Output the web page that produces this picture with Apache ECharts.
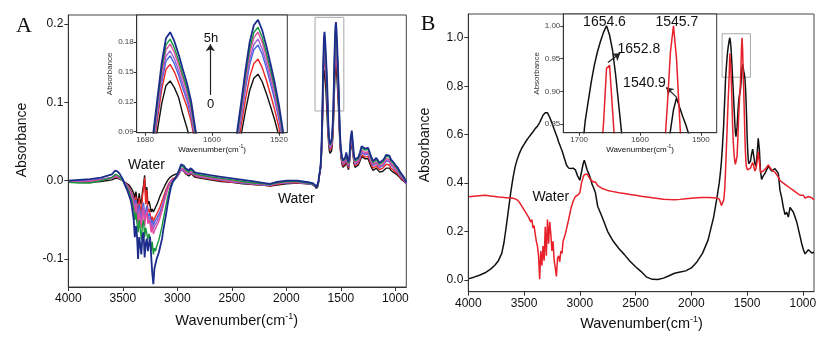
<!DOCTYPE html>
<html><head><meta charset="utf-8">
<script src="https://cdn.jsdelivr.net/npm/echarts@6/dist/echarts.min.js"></script>
<style>html,body{margin:0;padding:0;background:#fff}#c{width:835px;height:342px}</style>
</head><body><div id="c"></div>
<script>
// ---------- Panel A: wavenumbers ----------
const X_A = [
 4000,3900,3800,3700,3600,3570,3550,3530,3500,3480,3460,
 3450,3440,3430,3420,3410,3400,3390,3380,3370,3360,3350,3340,3330,3320,3310,3300,3290,3280,3270,3260,3250,3240,3230,3220,3210,3200,3190,3180,3170,3160,3150,3140,3130,3120,3110,3100,3090,3080,3070,3060,3050,
 3040,3020,3000,2980,2965,2955,2940,2925,2910,2895,2880,2870,2860,2845,2820,2780,2700,2600,2500,2400,2300,2200,2150,2100,2050,2000,1900,1800,1760,1740,1725,1715,1705,
 1700,1695,1690,1685,1680,1675,1670,1665,1660,1655,1650,1645,1640,1635,1630,1625,1620,1615,1610,1605,1600,1595,1590,1585,1580,1575,1570,1565,1560,1555,1550,1545,1540,1535,1530,1525,1520,1515,1510,
 1505,1500,1490,1480,1470,1460,1450,1440,1430,1420,1410,1400,1390,1380,1370,1355,1340,1325,1310,1295,1280,1265,1250,1235,1220,1205,1190,1175,1160,1145,1130,1115,1100,1085,1070,1055,1040,1020,1000,980,960,940,920,900
];
// 0 h (black)
const A_T0 = [
 -0.002,-0.002,-0.002,-0.001,0.001,0.003,0.003,0.002,0.000,-0.002,-0.004,
 -0.004,-0.006,-0.008,-0.010,-0.013,-0.016,-0.022,-0.014,-0.024,-0.030,-0.016,-0.026,-0.030,-0.014,-0.006,0.007,-0.020,-0.008,-0.030,-0.026,-0.032,-0.040,-0.036,-0.040,-0.037,-0.034,-0.031,-0.028,-0.024,-0.020,-0.017,-0.014,-0.011,-0.008,-0.005,-0.003,0.000,0.002,0.004,0.005,0.006,
 0.007,0.008,0.009,0.012,0.015,0.015,0.012,0.009,0.007,0.006,0.008,0.009,0.007,0.005,0.004,0.003,0.001,-0.001,-0.002,-0.004,-0.005,-0.006,-0.007,-0.006,-0.005,-0.004,-0.003,-0.004,-0.005,-0.007,-0.009,-0.009,-0.003,
 0.0045,0.0074,0.0111,0.0163,0.026,0.043,0.0668,0.0928,0.1187,0.1365,0.141,0.1343,0.1247,0.108,0.094,0.078,0.062,0.0534,0.043,0.0378,0.0349,0.0336,0.0343,0.038,0.0438,0.0533,0.0657,0.0876,0.111,0.1314,0.1438,0.1478,0.1402,0.1285,0.1153,0.1015,0.0854,0.0657,0.0496,
 0.040,0.031,0.021,0.017,0.018,0.020,0.026,0.018,0.014,0.024,0.041,0.049,0.036,0.022,0.017,0.016,0.020,0.025,0.031,0.030,0.028,0.029,0.028,0.022,0.017,0.013,0.012,0.016,0.014,0.011,0.010,0.012,0.014,0.016,0.015,0.016,0.013,0.011,0.009,0.007,0.004,0.001,-0.001,-0.004
];
// red
const A_T1 = [
 -0.001,-0.001,0.000,0.001,0.003,0.005,0.004,0.003,0.000,-0.003,-0.005,
 -0.006,-0.009,-0.012,-0.014,-0.018,-0.022,-0.030,-0.020,-0.032,-0.040,-0.022,-0.035,-0.042,-0.020,-0.010,0.004,-0.030,-0.012,-0.040,-0.036,-0.042,-0.050,-0.046,-0.052,-0.048,-0.046,-0.043,-0.040,-0.037,-0.034,-0.030,-0.026,-0.022,-0.018,-0.014,-0.010,-0.007,-0.004,-0.002,0.000,0.002,
 0.003,0.004,0.006,0.010,0.014,0.015,0.012,0.010,0.008,0.007,0.009,0.010,0.008,0.006,0.005,0.004,0.002,0.000,-0.002,-0.003,-0.005,-0.006,-0.007,-0.005,-0.004,-0.003,-0.003,-0.004,-0.005,-0.007,-0.010,-0.009,-0.002,
 0.005,0.0083,0.0125,0.0183,0.029,0.0481,0.0747,0.1038,0.1328,0.1527,0.1577,0.1502,0.1394,0.127,0.1154,0.1004,0.0772,0.0598,0.0481,0.0423,0.039,0.0375,0.0378,0.0419,0.0483,0.0588,0.0725,0.0966,0.1224,0.1449,0.1586,0.163,0.1546,0.1417,0.1272,0.1119,0.0942,0.0725,0.0547,
 0.043,0.034,0.023,0.019,0.020,0.022,0.028,0.020,0.016,0.026,0.044,0.052,0.038,0.024,0.019,0.018,0.022,0.027,0.033,0.032,0.030,0.032,0.031,0.025,0.020,0.016,0.015,0.019,0.017,0.014,0.013,0.016,0.018,0.021,0.019,0.020,0.016,0.014,0.011,0.009,0.005,0.002,0.000,-0.004
];
// blue
const A_T2 = [
 0.000,0.000,0.000,0.002,0.004,0.007,0.006,0.004,0.000,-0.003,-0.006,
 -0.008,-0.011,-0.014,-0.017,-0.020,-0.025,-0.034,-0.024,-0.036,-0.046,-0.030,-0.042,-0.050,-0.036,-0.028,-0.048,-0.038,-0.032,-0.046,-0.042,-0.046,-0.055,-0.050,-0.057,-0.053,-0.051,-0.048,-0.046,-0.043,-0.040,-0.036,-0.032,-0.028,-0.023,-0.018,-0.014,-0.010,-0.006,-0.003,-0.001,0.001,
 0.001,0.002,0.005,0.010,0.014,0.015,0.013,0.011,0.009,0.008,0.010,0.011,0.009,0.007,0.006,0.005,0.003,0.001,-0.001,-0.003,-0.004,-0.006,-0.006,-0.004,-0.003,-0.003,-0.002,-0.004,-0.005,-0.006,-0.009,-0.008,-0.002,
 0.0053,0.0088,0.0131,0.0193,0.0306,0.0508,0.0788,0.1094,0.14,0.161,0.1663,0.1584,0.147,0.1339,0.1216,0.1059,0.0814,0.063,0.0508,0.0446,0.0411,0.0403,0.0411,0.0455,0.0525,0.0639,0.0788,0.105,0.133,0.1575,0.1724,0.1772,0.168,0.154,0.1383,0.1216,0.1024,0.0788,0.0595,
 0.046,0.036,0.025,0.021,0.022,0.024,0.030,0.022,0.018,0.028,0.047,0.055,0.041,0.026,0.021,0.020,0.024,0.029,0.036,0.035,0.033,0.035,0.034,0.028,0.023,0.019,0.018,0.022,0.020,0.017,0.016,0.019,0.021,0.025,0.023,0.024,0.020,0.017,0.014,0.011,0.007,0.004,0.001,-0.004
];
// purple
const A_T3 = [
 -0.001,-0.001,0.000,0.001,0.003,0.006,0.005,0.003,0.000,-0.004,-0.007,
 -0.009,-0.012,-0.015,-0.018,-0.022,-0.028,-0.038,-0.028,-0.040,-0.050,-0.036,-0.046,-0.054,-0.040,-0.032,-0.052,-0.042,-0.036,-0.050,-0.046,-0.050,-0.060,-0.054,-0.062,-0.058,-0.056,-0.053,-0.050,-0.047,-0.043,-0.039,-0.035,-0.030,-0.025,-0.020,-0.015,-0.011,-0.007,-0.004,-0.002,0.000,
 0.000,0.002,0.005,0.010,0.015,0.016,0.014,0.011,0.009,0.008,0.011,0.012,0.009,0.007,0.006,0.005,0.003,0.001,-0.001,-0.002,-0.004,-0.005,-0.006,-0.004,-0.003,-0.002,-0.002,-0.003,-0.004,-0.006,-0.009,-0.008,-0.001,
 0.0054,0.009,0.0135,0.0198,0.0316,0.0523,0.0812,0.1128,0.1443,0.166,0.1714,0.1633,0.1515,0.138,0.1254,0.1091,0.0839,0.0649,0.0523,0.046,0.0424,0.0415,0.0424,0.0469,0.0541,0.0658,0.0812,0.1082,0.1371,0.1624,0.1777,0.1831,0.1732,0.1588,0.1425,0.1254,0.1055,0.0812,0.0613,
 0.047,0.037,0.026,0.022,0.023,0.025,0.031,0.023,0.019,0.029,0.048,0.056,0.042,0.027,0.022,0.021,0.025,0.030,0.037,0.036,0.034,0.036,0.035,0.029,0.024,0.020,0.019,0.023,0.021,0.018,0.017,0.020,0.022,0.026,0.024,0.025,0.021,0.018,0.015,0.012,0.008,0.005,0.002,-0.003
];
// pink
const A_T4 = [
 -0.001,-0.002,-0.001,0.001,0.004,0.007,0.006,0.004,0.000,-0.004,-0.008,
 -0.010,-0.013,-0.016,-0.020,-0.026,-0.030,-0.042,-0.030,-0.045,-0.055,-0.040,-0.050,-0.060,-0.044,-0.036,-0.058,-0.046,-0.040,-0.055,-0.050,-0.055,-0.066,-0.058,-0.068,-0.064,-0.062,-0.058,-0.056,-0.052,-0.048,-0.043,-0.038,-0.033,-0.027,-0.022,-0.017,-0.012,-0.008,-0.005,-0.002,0.000,
 0.000,0.002,0.006,0.011,0.016,0.017,0.015,0.012,0.010,0.009,0.012,0.013,0.010,0.008,0.007,0.006,0.004,0.002,0.000,-0.002,-0.003,-0.005,-0.005,-0.004,-0.003,-0.002,-0.002,-0.003,-0.004,-0.006,-0.009,-0.008,-0.001,
 0.0056,0.0094,0.0141,0.0206,0.0328,0.0543,0.0843,0.1171,0.1499,0.1724,0.178,0.1696,0.1574,0.1434,0.1302,0.1134,0.0871,0.0675,0.0543,0.0478,0.044,0.0431,0.044,0.0487,0.0562,0.0684,0.0843,0.1124,0.1424,0.1687,0.1846,0.19,0.1799,0.1649,0.148,0.1302,0.1096,0.0843,0.0637,
 0.048,0.038,0.027,0.023,0.024,0.026,0.032,0.024,0.020,0.030,0.050,0.058,0.044,0.028,0.023,0.022,0.026,0.032,0.039,0.038,0.036,0.038,0.037,0.031,0.025,0.021,0.020,0.024,0.022,0.019,0.018,0.021,0.024,0.028,0.026,0.027,0.022,0.019,0.016,0.013,0.009,0.006,0.002,-0.003
];
// green
const A_T5 = [
 -0.002,-0.003,-0.003,0.000,0.004,0.008,0.007,0.005,0.000,-0.005,-0.009,
 -0.012,-0.016,-0.020,-0.024,-0.030,-0.036,-0.050,-0.040,-0.055,-0.066,-0.050,-0.062,-0.075,-0.056,-0.050,-0.072,-0.060,-0.058,-0.075,-0.068,-0.072,-0.090,-0.078,-0.094,-0.086,-0.090,-0.084,-0.080,-0.076,-0.070,-0.064,-0.058,-0.050,-0.043,-0.036,-0.029,-0.022,-0.016,-0.011,-0.006,-0.003,
 -0.001,0.002,0.007,0.013,0.019,0.020,0.017,0.014,0.012,0.011,0.014,0.015,0.012,0.009,0.008,0.007,0.005,0.003,0.001,-0.001,-0.003,-0.004,-0.005,-0.003,-0.002,-0.001,-0.001,-0.003,-0.004,-0.006,-0.010,-0.009,-0.001,
 0.006,0.0096,0.0144,0.0212,0.0337,0.0559,0.0867,0.1204,0.1541,0.1772,0.183,0.1743,0.1618,0.1473,0.1339,0.1165,0.0896,0.0693,0.0559,0.0491,0.0453,0.0443,0.0453,0.0501,0.0578,0.0703,0.0867,0.1156,0.1464,0.1733,0.1897,0.195,0.1849,0.1695,0.1522,0.1339,0.1127,0.0867,0.0655,
 0.050,0.040,0.029,0.025,0.026,0.028,0.034,0.026,0.022,0.032,0.052,0.061,0.046,0.030,0.025,0.024,0.028,0.034,0.042,0.041,0.039,0.041,0.040,0.034,0.028,0.023,0.022,0.027,0.025,0.021,0.020,0.024,0.027,0.031,0.029,0.030,0.025,0.022,0.018,0.015,0.010,0.007,0.003,-0.002
];
// 5 h (navy)
const A_T6 = [
 0.000,0.001,0.002,0.004,0.008,0.013,0.012,0.009,0.002,-0.006,-0.012,
 -0.016,-0.020,-0.024,-0.030,-0.040,-0.050,-0.072,-0.058,-0.070,-0.100,-0.072,-0.082,-0.094,-0.070,-0.066,-0.098,-0.080,-0.074,-0.090,-0.080,-0.072,-0.096,-0.118,-0.132,-0.112,-0.106,-0.100,-0.096,-0.092,-0.086,-0.080,-0.074,-0.064,-0.056,-0.048,-0.040,-0.031,-0.023,-0.016,-0.009,-0.005,
 -0.001,0.003,0.008,0.015,0.021,0.022,0.019,0.016,0.014,0.013,0.016,0.017,0.014,0.011,0.010,0.009,0.007,0.005,0.003,0.001,-0.001,-0.003,-0.004,-0.002,-0.001,0.000,0.000,-0.002,-0.003,-0.005,-0.009,-0.008,0.000,
 0.006,0.010,0.015,0.022,0.035,0.058,0.090,0.125,0.160,0.184,0.190,0.181,0.168,0.153,0.139,0.121,0.093,0.072,0.058,0.051,0.047,0.046,0.047,0.052,0.060,0.073,0.090,0.120,0.152,0.180,0.197,0.2025,0.192,0.176,0.158,0.139,0.117,0.090,0.068,
 0.052,0.042,0.030,0.026,0.028,0.030,0.036,0.028,0.024,0.034,0.055,0.064,0.048,0.032,0.027,0.026,0.030,0.036,0.044,0.043,0.041,0.043,0.042,0.036,0.030,0.025,0.024,0.029,0.027,0.023,0.022,0.026,0.029,0.033,0.031,0.032,0.027,0.024,0.020,0.017,0.012,0.008,0.004,-0.002
];
const A_SERIES = [A_T0, A_T1, A_T2, A_T3, A_T4, A_T5, A_T6];
const A_NAMES = ['0 h','t1','t2','t3','t4','t5','5 h'];
const A_COLORS = ['#111111','#ee2525','#4466dd','#9a5fd0','#e24a9e','#17963c','#1c2c8c'];

// ---------- Panel B ----------
const X_B = [
 4000,3950,3900,3850,3800,3760,3730,3700,3680,3660,3640,3620,3600,3580,3560,3540,3520,3500,3480,3460,
 3450,3440,3430,3420,3410,3400,3390,3380,3370,3360,3350,3340,3330,3320,3310,3300,3290,3280,3270,3260,3250,3240,3230,3220,3210,3200,3190,3180,3170,3160,3150,3140,3130,
 3120,3100,3080,3060,3040,3020,3000,2985,2970,2960,2950,2935,2920,2905,2890,2880,2870,2860,2840,2800,2750,2700,2650,2600,2550,2500,2450,2400,2350,2300,2250,2200,2150,2100,2050,2000,1950,1900,1850,1800,1770,1750,1740,1730,1720,1710,1705,
 1700,1695,1690,1685,1680,1675,1670,1665,1660,1655,1650,1645,1640,1635,1630,1625,1620,1615,1610,1605,1600,1595,1590,1585,1580,1575,1570,1565,1560,1555,1550,1545,1540,1535,1530,1525,1520,1515,1510,1505,1500,1495,1490,1485,1480,
 1470,1460,1450,1440,1430,1420,1410,1400,1390,1380,1370,1355,1340,1325,1310,1295,1280,1265,1250,1235,1220,1205,1190,1175,1160,1145,1130,1115,1100,1085,1070,1055,1040,1025,1010,995,980,965,950,935,920,900
];
const B_BLACK = [
 0.005,0.012,0.020,0.030,0.045,0.062,0.080,0.110,0.155,0.220,0.290,0.360,0.420,0.468,0.500,0.525,0.545,0.560,0.575,0.588,
 0.595,0.600,0.605,0.612,0.620,0.625,0.630,0.635,0.640,0.650,0.660,0.670,0.680,0.686,0.690,0.692,0.690,0.684,0.672,0.660,0.648,0.635,0.622,0.610,0.598,0.585,0.570,0.558,0.546,0.535,0.520,0.505,0.490,
 0.475,0.462,0.460,0.462,0.455,0.430,0.412,0.420,0.480,0.495,0.480,0.455,0.440,0.420,0.395,0.385,0.390,0.360,0.305,0.260,0.200,0.160,0.130,0.105,0.078,0.055,0.035,0.012,0.003,0.002,0.008,0.018,0.028,0.033,0.038,0.050,0.075,0.110,0.165,0.260,0.340,0.400,0.440,0.490,0.560,0.640,0.700,
 0.75,0.81,0.855,0.885,0.915,0.94,0.96,0.976,0.99,1.0,0.986,0.962,0.925,0.88,0.835,0.79,0.742,0.695,0.648,0.608,0.592,0.60,0.63,0.67,0.71,0.74,0.76,0.772,0.785,0.81,0.84,0.872,0.89,0.876,0.862,0.85,0.835,0.80,0.75,0.68,0.60,0.54,0.50,0.48,0.475,
 0.49,0.52,0.54,0.51,0.48,0.47,0.52,0.585,0.54,0.45,0.415,0.43,0.44,0.455,0.47,0.46,0.45,0.455,0.46,0.46,0.44,0.37,0.34,0.30,0.27,0.28,0.26,0.30,0.295,0.28,0.26,0.24,0.21,0.18,0.15,0.125,0.108,0.105,0.125,0.13,0.112,0.115
];
const B_RED = [
 0.344,0.346,0.348,0.350,0.347,0.345,0.343,0.342,0.341,0.340,0.340,0.339,0.338,0.335,0.330,0.320,0.305,0.290,0.275,0.260,
 0.255,0.240,0.250,0.215,0.225,0.190,0.160,0.140,0.100,0.004,0.120,0.060,0.140,0.080,0.220,0.100,0.250,0.150,0.240,0.190,0.120,0.160,0.080,0.050,0.015,0.090,0.100,0.075,0.120,0.110,0.160,0.165,0.190,
 0.210,0.250,0.295,0.325,0.345,0.350,0.360,0.400,0.425,0.435,0.440,0.438,0.430,0.415,0.410,0.405,0.412,0.405,0.390,0.378,0.370,0.365,0.360,0.357,0.353,0.350,0.346,0.343,0.340,0.337,0.334,0.332,0.331,0.333,0.336,0.338,0.340,0.341,0.341,0.340,0.338,0.334,0.322,0.308,0.305,0.330,0.350,
 0.38,0.43,0.49,0.55,0.61,0.68,0.74,0.79,0.85,0.935,0.94,0.87,0.80,0.72,0.64,0.58,0.54,0.51,0.49,0.478,0.475,0.485,0.51,0.56,0.62,0.68,0.73,0.77,0.81,0.88,0.96,1.0,0.95,0.86,0.78,0.69,0.60,0.53,0.485,0.465,0.458,0.455,0.452,0.455,0.46,
 0.462,0.47,0.485,0.47,0.45,0.46,0.49,0.53,0.49,0.445,0.44,0.45,0.455,0.465,0.475,0.468,0.455,0.46,0.445,0.435,0.425,0.41,0.418,0.40,0.405,0.39,0.395,0.38,0.385,0.37,0.372,0.36,0.362,0.35,0.345,0.35,0.338,0.342,0.345,0.348,0.34,0.33
];

// ---------- ticks, zoom boxes, annotations ----------
const TICKS_X = [4000,3500,3000,2500,2000,1500,1000];
const TICKS_YA = [-0.1,0,0.1,0.2];
const TICKS_YB = [0,0.2,0.4,0.6,0.8,1.0];
const TICKS_XAI = [1680,1600,1520];
const TICKS_YAI = [0.09,0.12,0.15,0.18];
const TICKS_XBI = [1700,1600,1500];
const TICKS_YBI = [0.85,0.90,0.95,1.00];
const BOX_A = [1737,1473,0.089,0.2085];
const BOX_B = [1724,1470,0.837,1.0165];
const ARROW_A = [[1602,0.127],[1602,0.178]];
const ARROWS_B = [[[1652.8,0.944],[1632.6,0.958]],[[1539.2,0.8905],[1556.8,0.906]]];

const FONT = 'Liberation Sans, Arial, sans-serif';
const pairs = (xs, ys) => xs.map((x,i)=>[x, ys[i]]);
const supRich = (fs) => ({
  b:{fontSize:fs, fontFamily:FONT, color:'#111', verticalAlign:'bottom'},
  s:{fontSize:Math.round(fs*0.65), fontFamily:FONT, color:'#111', verticalAlign:'bottom', padding:[0,0,Math.round(fs*0.5),0]}
});
const WN = '{b|Wavenumber(cm}{s|-1}{b|)}';

function xAx(gi, min, max, ticks, fs, color, z, name, gap){
  const o = {type:'value', gridIndex:gi, min, max, inverse:true, z,
    axisLine:{show:true, onZero:false, lineStyle:{color:'#333', width:1}},
    axisTick:{show:true, customValues:ticks, length: fs>10?4:3, lineStyle:{color:'#333'}},
    axisLabel:{customValues:ticks, fontSize:fs, color, fontFamily:FONT, margin: fs>10?6:3, formatter:v=>String(v)},
    splitLine:{show:false}};
  if(name){o.name=name;o.nameLocation='middle';o.nameGap=gap;o.nameTextStyle={rich:supRich(fs)};}
  return o;
}
function yAx(gi, min, max, ticks, fs, color, dec, z, name, gap){
  const o = {type:'value', gridIndex:gi, min, max, z,
    axisLine:{show:true, onZero:false, lineStyle:{color:'#333', width:1}},
    axisTick:{show:true, customValues:ticks, length: fs>10?4:3, lineStyle:{color:'#333'}},
    axisLabel:{customValues:ticks, fontSize:fs, color, fontFamily:FONT, margin: fs>10?5:3, formatter:v=>v.toFixed(dec)},
    splitLine:{show:false}};
  if(name){o.name=name;o.nameLocation='middle';o.nameGap=gap;o.nameTextStyle={fontSize:fs, color:'#333', fontFamily:FONT};}
  return o;
}

const series = [];
A_SERIES.forEach((ys,k)=>{
  const w = k===6?1.8:1.4;
  series.push({name:A_NAMES[k], type:'line', xAxisIndex:0, yAxisIndex:0, data:pairs(X_A,ys), showSymbol:false, symbol:'none',
    lineStyle:{color:A_COLORS[k], width:w}, z:2, silent:true,
    markArea: k===6 ? {silent:true, itemStyle:{color:'rgba(0,0,0,0)', borderColor:'#aaaaaa', borderWidth:1},
      data:[[{coord:[BOX_A[0],BOX_A[3]]},{coord:[BOX_A[1],BOX_A[2]]}]]} : undefined});
  series.push({name:A_NAMES[k]+' inset', type:'line', xAxisIndex:1, yAxisIndex:1, data:pairs(X_A,ys), showSymbol:false, symbol:'none',
    lineStyle:{color:A_COLORS[k], width:w}, z:8, silent:true, clip:true,
    markLine: k===6 ? {silent:true, symbol:['none','arrow'], symbolSize:7, label:{show:false},
      lineStyle:{color:'#222', width:1.2, type:'solid'},
      data:[[{coord:ARROW_A[0]},{coord:ARROW_A[1]}]]} : undefined});
});
[['black',B_BLACK,'#111111'],['red',B_RED,'#e8202a']].forEach(([n,ys,c],k)=>{
  series.push({name:'B '+n, type:'line', xAxisIndex:2, yAxisIndex:2, data:pairs(X_B,ys), showSymbol:false, symbol:'none',
    lineStyle:{color:c, width:1.5}, z:2, silent:true,
    markArea: k===1 ? {silent:true, itemStyle:{color:'rgba(0,0,0,0)', borderColor:'#aaaaaa', borderWidth:1},
      data:[[{coord:[BOX_B[0],BOX_B[3]]},{coord:[BOX_B[1],BOX_B[2]]}]]} : undefined});
  series.push({name:'B '+n+' inset', type:'line', xAxisIndex:3, yAxisIndex:3, data:pairs(X_B,ys), showSymbol:false, symbol:'none',
    lineStyle:{color:c, width:1.5}, z:8, silent:true, clip:true,
    markLine: k===0 ? {silent:true, symbol:['none','arrow'], symbolSize:7, label:{show:false},
      lineStyle:{color:'#222', width:1.2, type:'solid'},
      data:ARROWS_B.map(a=>[{coord:a[0]},{coord:a[1]}])} : undefined});
});

function txt(x,y,t,fs,opt){
  opt = opt||{};
  return {type:'text', x, y, rotation:opt.rot||0, z:opt.z||20,
    style:{text:t, fontSize:fs, fontFamily:opt.font||FONT, fill:opt.fill||'#111', fontWeight:opt.weight||'normal',
      align:'center', verticalAlign:'middle', textAlign:'center', textVerticalAlign:'middle', rich:opt.rich}};
}

const option = {
  animation:false,
  backgroundColor:'#fff',
  grid:[
    {left:68.3, top:15, width:338, height:272, show:true, borderColor:'#444', borderWidth:1, outerBoundsMode:'none', containLabel:false},
    {left:136.7, top:15, width:150.6, height:117.7, show:true, backgroundColor:'#fff', borderColor:'#333', borderWidth:1, z:5, outerBoundsMode:'none', containLabel:false},
    {left:468.3, top:14, width:345.7, height:277.7, show:true, borderColor:'#444', borderWidth:1, outerBoundsMode:'none', containLabel:false},
    {left:563.3, top:14, width:153.4, height:118.7, show:true, backgroundColor:'#fff', borderColor:'#333', borderWidth:1, z:5, outerBoundsMode:'none', containLabel:false}
  ],
  xAxis:[
    xAx(0, 900, 4000, TICKS_X, 12, '#111', 3),
    xAx(1, 1510, 1690, TICKS_XAI, 8, '#444', 9, WN, 10),
    xAx(2, 900, 4000, TICKS_X, 12, '#111', 3),
    xAx(3, 1474, 1726, TICKS_XBI, 8, '#444', 9, WN, 11)
  ],
  yAxis:[
    yAx(0, -0.1357, 0.2115, TICKS_YA, 12, '#111', 1, 3),
    yAx(1, 0.089, 0.2073, TICKS_YAI, 8, '#444', 2, 9, 'Absorbance', 19),
    yAx(2, -0.048, 1.098, TICKS_YB, 12, '#111', 1, 3),
    yAx(3, 0.837, 1.018, TICKS_YBI, 8, '#444', 2, 9, 'Absorbance', 19)
  ],
  series,
  graphic:[
    txt(24, 26, 'A', 22, {font:'Liberation Serif, Times New Roman, serif'}),
    txt(428, 24.5, 'B', 22, {font:'Liberation Serif, Times New Roman, serif'}),
    txt(21.7, 140, 'Absorbance', 14, {rot:Math.PI/2}),
    txt(425, 145, 'Absorbance', 14, {rot:Math.PI/2}),
    txt(236.7, 320, WN, 14.5, {rich:supRich(14.5)}),
    txt(641.5, 323, WN, 14.5, {rich:supRich(14.5)}),
    txt(146.5, 164.7, 'Water', 14),
    txt(296.3, 199, 'Water', 14),
    txt(550.8, 196.7, 'Water', 14),
    txt(211, 38, '5h', 13),
    txt(210.7, 104, '0', 13),
    txt(604.5, 22, '1654.6', 14),
    txt(676.8, 22, '1545.7', 14),
    txt(638.8, 48.7, '1652.8', 14),
    txt(644.5, 82.7, '1540.9', 14)
  ]
};
const chart = echarts.init(document.getElementById('c'), null, {renderer:'canvas'});
chart.setOption(option);
</script></body></html>
